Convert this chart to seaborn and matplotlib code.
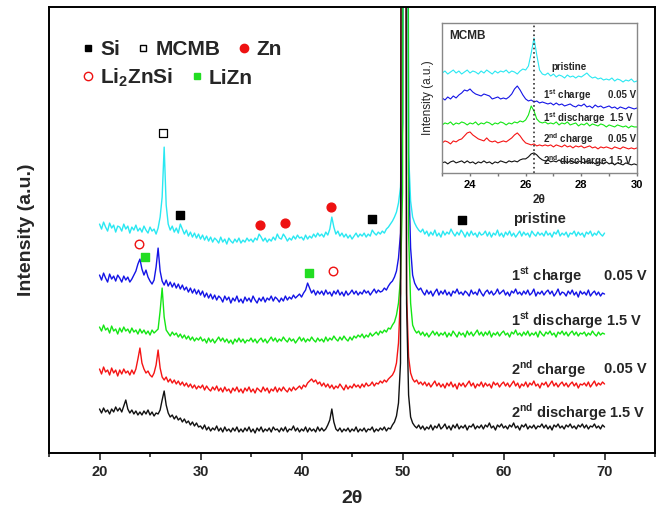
import numpy as np
import pandas as pd
import matplotlib
matplotlib.use("Agg")
import matplotlib.pyplot as plt
from matplotlib.lines import Line2D
from matplotlib.ticker import MultipleLocator, NullLocator
import seaborn as sns

# XRD patterns, main panel (2theta 20..70, step 0.2), offset intensities in a.u.
theta = np.round(np.arange(20, 70.01, 0.2), 1)

pristine = [
    229, 224, 231, 226, 222, 230, 225, 228, 221, 227,
    226, 222, 229, 224, 227, 220, 226, 223, 228, 222,
    225, 221, 227, 223, 220, 226, 222, 224, 219, 225,
    236, 256, 306, 248, 229, 223, 227, 221, 225, 220,
    229, 224, 219, 223, 217, 221, 216, 220, 215, 219,
    214, 218, 213, 217, 212, 216, 211, 215, 213, 210,
    216, 211, 214, 209, 215, 212, 210, 214, 211, 215,
    210, 213, 211, 215, 212, 214, 211, 215, 213, 219,
    216, 212, 215, 211, 214, 212, 216, 213, 219, 215,
    214, 219, 216, 212, 215, 213, 217, 214, 218, 215,
    216, 213, 218, 214, 217, 215, 219, 216, 220, 217,
    219, 216, 221, 218, 224, 236, 226, 219, 222, 217,
    220, 216, 219, 215, 218, 214, 217, 220, 216, 219,
    217, 220, 216, 219, 217, 223, 220, 218, 221, 219,
    222, 220, 224, 226, 229, 232, 236, 241, 250, 266,
    330, 1500, 1500, 300, 252, 236, 230, 226, 223, 221,
    224, 219, 222, 217, 221, 218, 223, 217, 220, 216,
    222, 218, 221, 219, 224, 220, 217, 221, 218, 223,
    220, 216, 221, 217, 222, 218, 220, 216, 221, 218,
    219, 222, 217, 221, 216, 220, 218, 223, 217, 220,
    216, 221, 218, 222, 217, 220, 216, 219, 222, 217,
    221, 218, 220, 216, 222, 219, 217, 221, 218, 220,
    217, 222, 218, 220, 216, 221, 219, 223, 217, 220,
    218, 221, 216, 220, 219, 222, 217, 221, 218, 220,
    216, 221, 219, 222, 217, 220, 218, 222, 219, 217,
    220]

charge1 = [
    178, 173, 180, 175, 171, 179, 174, 177, 172, 178,
    175, 171, 177, 173, 176, 171, 174, 178, 182, 189,
    194, 184, 178, 183, 176, 172, 169, 173, 186, 205,
    182, 172, 168, 173, 167, 171, 166, 170, 165, 169,
    164, 168, 163, 166, 161, 165, 160, 164, 159, 163,
    158, 162, 156, 160, 155, 159, 154, 158, 153, 157,
    155, 151, 157, 153, 156, 150, 155, 152, 157, 151,
    154, 150, 156, 152, 155, 151, 157, 153, 150, 155,
    152, 156, 151, 155, 153, 157, 152, 156, 154, 151,
    155, 152, 157, 153, 156, 154, 158, 155, 157, 159,
    156, 160, 163, 170, 165, 160, 163, 158, 162, 159,
    162, 158, 163, 159, 161, 157, 162, 159, 163, 158,
    161, 157, 162, 158, 160, 163, 159, 162, 158, 161,
    159, 163, 160, 162, 158, 161, 164, 160, 163, 161,
    162, 165, 163, 167, 170, 172, 176, 182, 195, 220,
    330, 1500, 1500, 280, 205, 178, 170, 166, 163, 165,
    161, 158, 163, 159, 162, 157, 161, 164, 158, 162,
    159, 163, 158, 161, 157, 162, 160, 164, 159, 161,
    158, 162, 160, 157, 163, 159, 161, 158, 164, 160,
    157, 161, 163, 159, 162, 158, 160, 164, 159, 161,
    163, 158, 161, 157, 162, 160, 164, 159, 161, 158,
    162, 159, 163, 158, 160, 164, 157, 161, 159, 162,
    158, 161, 163, 159, 162, 157, 160, 164, 158, 161,
    160, 157, 162, 159, 163, 158, 161, 156, 162, 159,
    161, 158, 163, 157, 160, 162, 158, 161, 157, 160,
    159]

discharge1 = [
    126, 122, 128, 123, 125, 120, 127, 122, 124, 119,
    125, 121, 126, 122, 124, 120, 125, 121, 123, 119,
    124, 120, 123, 119, 122, 118, 123, 120, 122, 124,
    142, 165, 136, 123, 120, 117, 121, 118, 120, 116,
    119, 115, 118, 114, 117, 113, 116, 112, 115, 113,
    116, 112, 114, 110, 115, 111, 114, 110, 113, 116,
    112, 115, 111, 114, 110, 113, 109, 114, 111, 115,
    111, 114, 110, 113, 112, 115, 111, 114, 110, 113,
    115, 111, 114, 110, 113, 116, 112, 115, 111, 114,
    112, 116, 113, 111, 115, 112, 114, 110, 113, 116,
    112, 115, 111, 114, 112, 116, 113, 111, 115, 112,
    114, 111, 116, 112, 115, 113, 117, 114, 112, 116,
    113, 117, 114, 112, 116, 113, 117, 115, 118, 116,
    119, 115, 118, 116, 120, 117, 119, 121, 118, 122,
    120, 123, 121, 125, 124, 128, 131, 138, 150, 175,
    260, 1500, 1500, 220, 150, 128, 123, 120, 122, 118,
    121, 117, 120, 116, 119, 122, 118, 121, 117, 120,
    118, 121, 116, 120, 117, 122, 119, 116, 121, 118,
    120, 116, 122, 118, 121, 117, 120, 123, 118, 121,
    117, 121, 118, 122, 116, 120, 118, 121, 117, 120,
    122, 118, 120, 116, 121, 119, 123, 118, 120, 117,
    121, 118, 122, 117, 120, 118, 121, 116, 122, 119,
    117, 121, 119, 122, 118, 120, 116, 121, 119, 122,
    118, 121, 117, 120, 122, 118, 121, 117, 120, 119,
    121, 117, 120, 118, 122, 119, 117, 121, 118, 120,
    119]

charge2 = [
    84, 79, 86, 81, 83, 78, 85, 80, 83, 77,
    83, 79, 84, 80, 82, 78, 83, 79, 84, 94,
    105, 90, 84, 80, 82, 78, 76, 80, 88, 103,
    85, 76, 73, 76, 71, 74, 70, 73, 69, 72,
    68, 71, 67, 70, 66, 69, 65, 68, 64, 67,
    65, 68, 63, 67, 64, 62, 66, 63, 67, 62,
    65, 61, 66, 62, 64, 60, 65, 62, 66, 61,
    64, 60, 65, 62, 66, 61, 64, 60, 65, 63,
    61, 66, 62, 65, 60, 64, 62, 66, 61, 65,
    62, 66, 63, 61, 65, 62, 66, 63, 65, 67,
    64, 68, 66, 70, 72, 74, 71, 73, 69, 71,
    67, 70, 66, 69, 65, 68, 64, 67, 65, 69,
    66, 63, 68, 64, 67, 65, 69, 66, 68, 65,
    69, 66, 70, 67, 68, 71, 67, 70, 69, 72,
    70, 73, 71, 74, 76, 78, 82, 90, 110, 160,
    1500, 1500, 160, 96, 80, 74, 71, 73, 69, 71,
    68, 71, 67, 70, 66, 69, 72, 67, 70, 66,
    69, 65, 70, 67, 71, 66, 69, 64, 70, 67,
    70, 66, 69, 72, 67, 70, 65, 69, 67, 71,
    66, 70, 67, 69, 65, 71, 68, 70, 66, 69,
    71, 67, 70, 66, 69, 72, 67, 70, 65, 69,
    67, 71, 66, 70, 68, 72, 67, 69, 65, 70,
    68, 71, 66, 69, 72, 67, 70, 66, 69, 71,
    67, 70, 66, 69, 71, 67, 70, 65, 69, 68,
    70, 67, 71, 66, 69, 72, 67, 70, 68, 71,
    69]

discharge2 = [
    44, 40, 45, 41, 43, 39, 44, 41, 46, 42,
    45, 41, 47, 53, 44, 40, 43, 39, 42, 38,
    41, 38, 42, 39, 43, 38, 41, 37, 40, 39,
    43, 53, 62, 48, 40, 36, 38, 34, 37, 33,
    35, 31, 34, 30, 32, 28, 31, 27, 30, 26,
    27, 24, 28, 23, 26, 22, 25, 23, 27, 22,
    25, 21, 26, 22, 24, 21, 25, 22, 26, 21,
    24, 21, 25, 22, 26, 21, 24, 20, 25, 22,
    26, 21, 24, 22, 25, 21, 26, 23, 24, 21,
    25, 22, 26, 21, 24, 23, 27, 22, 25, 21,
    24, 22, 26, 21, 25, 22, 24, 21, 26, 22,
    25, 22, 24, 28, 33, 44, 31, 24, 22, 25,
    21, 24, 22, 25, 21, 24, 22, 26, 21, 24,
    22, 25, 21, 24, 23, 26, 21, 24, 22, 25,
    23, 26, 22, 25, 24, 28, 31, 37, 50, 90,
    1500, 1500, 150, 58, 36, 30, 27, 25, 28, 24,
    27, 23, 26, 24, 28, 23, 27, 25, 29, 24,
    26, 29, 24, 27, 23, 28, 25, 29, 24, 27,
    25, 28, 23, 27, 26, 29, 24, 27, 25, 28,
    24, 28, 26, 30, 25, 27, 23, 28, 26, 29,
    25, 27, 24, 28, 26, 30, 25, 27, 23, 28,
    26, 29, 24, 27, 25, 28, 24, 27, 26, 29,
    25, 28, 24, 27, 23, 28, 26, 29, 25, 27,
    24, 28, 26, 29, 25, 27, 24, 28, 26, 29,
    25, 28, 24, 27, 26, 29, 25, 27, 24, 28,
    26]

# inset: MCMB region (2theta 23..30, step 0.1)
theta_in = np.round(np.arange(23, 30.001, 0.1), 1)

pristine_in = [
    100, 102, 99, 101, 103, 100, 102, 99, 101, 103,
    100, 102, 101, 99, 102, 100, 103, 101, 99, 102,
    100, 102, 101, 103, 100, 102, 101, 99, 102, 104,
    103, 107, 120, 135, 118, 103, 99, 98, 100, 97,
    99, 96, 98, 97, 95, 98, 96, 97, 95, 97,
    96, 98, 100, 97, 95, 96, 94, 95, 93, 94,
    93, 95, 92, 94, 93, 91, 93, 92, 94, 91,
    92]
charge1_in = [
    75, 73, 76, 74, 77, 75, 78, 80, 83, 82,
    84, 81, 79, 78, 77, 79, 78, 77, 74, 75,
    76, 74, 75, 74, 76, 79, 84, 87, 83, 78,
    74, 72, 73, 71, 72, 70, 71, 70, 69, 70,
    68, 70, 68, 69, 67, 68, 69, 67, 66, 68,
    67, 69, 66, 67, 65, 68, 66, 67, 65, 66,
    67, 65, 66, 64, 66, 65, 64, 66, 65, 64,
    65]
discharge1_in = [
    48, 50, 49, 51, 48, 50, 49, 51, 50, 48,
    50, 49, 51, 48, 50, 49, 51, 50, 48, 50,
    49, 51, 50, 48, 50, 49, 51, 50, 52, 51,
    53, 58, 67, 62, 54, 51, 50, 51, 49, 50,
    49, 51, 48, 50, 49, 51, 48, 49, 50, 47,
    49, 48, 50, 47, 49, 48, 47, 49, 48, 46,
    48, 47, 46, 48, 47, 46, 47, 45, 47, 46,
    46]
charge2_in = [
    30, 32, 31, 29, 32, 31, 33, 34, 37, 40,
    41, 38, 36, 34, 33, 32, 35, 32, 31, 32,
    30, 31, 32, 31, 33, 35, 38, 40, 37, 33,
    30, 29, 28, 29, 27, 28, 27, 28, 27, 28,
    26, 28, 27, 26, 28, 26, 27, 25, 27, 26,
    27, 25, 26, 27, 25, 26, 24, 26, 25, 26,
    25, 24, 26, 25, 24, 26, 25, 24, 25, 24,
    25]
discharge2_in = [
    10, 11, 9, 11, 12, 10, 11, 12, 10, 12,
    10, 11, 9, 11, 10, 12, 10, 11, 9, 11,
    10, 12, 11, 10, 12, 11, 12, 11, 13, 14,
    14, 16, 19, 20, 18, 15, 13, 12, 13, 11,
    12, 11, 13, 11, 12, 10, 12, 11, 10, 12,
    11, 10, 12, 10, 11, 9, 11, 10, 9, 11,
    9, 10, 8, 10, 9, 8, 10, 9, 8, 9,
    8]

states = ["pristine", "1st charge", "1st discharge", "2nd charge", "2nd discharge"]
colors = ["#2ae8f2", "#1414e6", "#14e614", "#f51414", "#111111"]

# phase markers (2theta, offset intensity)
si_x, si_y = [28.0, 47.0, 55.9], [238, 234, 233]
mcmb_x, mcmb_y = [26.3], [320]
zn_x, zn_y = [35.9, 38.35, 42.9], [228, 230, 246]
li2znsi_x, li2znsi_y = [23.9, 43.1], [209, 182]
lizn_x, lizn_y = [24.5, 40.7], [196, 180]

sns.set_style("ticks")
plt.rcParams["font.family"] = ["Liberation Sans", "DejaVu Sans"]
plt.rcParams["mathtext.fontset"] = "custom"
plt.rcParams["mathtext.rm"] = "Liberation Sans"
plt.rcParams["mathtext.bf"] = "Liberation Sans:bold"

main = pd.concat([pd.DataFrame({"theta": theta, "intensity": y, "state": s})
                  for s, y in zip(states, [pristine, charge1, discharge1, charge2, discharge2])])
inset = pd.concat([pd.DataFrame({"theta": theta_in, "intensity": y, "state": s})
                   for s, y in zip(states, [pristine_in, charge1_in, discharge1_in, charge2_in, discharge2_in])])

fig = plt.figure(figsize=(6.58, 5.13), dpi=100)
ax = fig.add_axes([0.0745, 0.117, 0.921, 0.869])

sns.lineplot(data=main, x="theta", y="intensity", hue="state", palette=colors,
             estimator=None, sort=False, lw=1.0, legend=False, ax=ax)

ax.scatter(si_x, si_y, marker="s", s=40, color="black", zorder=5)
ax.scatter(mcmb_x, mcmb_y, marker="s", s=34, facecolor="white", edgecolor="black", lw=0.9, zorder=5)
ax.scatter(zn_x, zn_y, marker="o", s=40, color="#ee1111", zorder=5)
ax.scatter(li2znsi_x, li2znsi_y, marker="o", s=38, facecolor="white", edgecolor="#ee1111", lw=1, zorder=5)
ax.scatter(lizn_x, lizn_y, marker="s", s=40, color="#22dd22", zorder=5)

ax.set_xlim(15, 75)
ax.set_ylim(0, 446)
ax.xaxis.set_major_locator(MultipleLocator(10))
ax.xaxis.set_minor_locator(MultipleLocator(5))
ax.yaxis.set_major_locator(NullLocator())
ax.tick_params(axis="x", which="major", direction="out", length=5, width=1.2, labelsize=10.5)
ax.tick_params(axis="x", which="minor", direction="out", length=3, width=1.2)
for lab in ax.get_xticklabels():
    lab.set_fontweight("bold")
for sp in ax.spines.values():
    sp.set_linewidth(1.4)
    sp.set_color("black")
ax.set_xlabel("2θ", fontsize=14, fontweight="bold", labelpad=8)
ax.set_ylabel("Intensity (a.u.)", fontsize=14, fontweight="bold", labelpad=10)

# state labels
lab_kw = dict(fontsize=10.5, fontweight="bold", va="center", ha="left")
ax.text(60.9, 234, "pristine", **lab_kw)
ax.text(60.7, 177, r"1$^{\mathbf{st}}$ charge", **lab_kw)
ax.text(69.9, 177, "0.05 V", **lab_kw)
ax.text(60.7, 132, r"1$^{\mathbf{st}}$ discharge 1.5 V", **lab_kw)
ax.text(60.7, 84, r"2$^{\mathbf{nd}}$ charge", **lab_kw)
ax.text(69.9, 84, "0.05 V", **lab_kw)
ax.text(60.7, 41, r"2$^{\mathbf{nd}}$ discharge 1.5 V", **lab_kw)

# legends (two rows)
row1 = [Line2D([], [], ls="none", marker="s", ms=5, color="black"),
        Line2D([], [], ls="none", marker="s", ms=5, mfc="white", mec="black"),
        Line2D([], [], ls="none", marker="o", ms=6, color="#ee1111")]
row2 = [Line2D([], [], ls="none", marker="o", ms=6, mfc="white", mec="#ee1111"),
        Line2D([], [], ls="none", marker="s", ms=5, color="#22dd22")]
leg_kw = dict(frameon=False, handlelength=0.6, handletextpad=0.3, columnspacing=0.8,
              prop={"weight": "bold", "size": 15}, borderaxespad=0)
leg1 = ax.legend(row1, ["Si", "MCMB", "Zn"], ncol=3, loc="upper left",
                 bbox_to_anchor=(0.04, 0.945), **leg_kw)
ax.add_artist(leg1)
ax.legend(row2, [r"Li$_{\mathbf{2}}$ZnSi", "LiZn"], ncol=2, loc="upper left",
          bbox_to_anchor=(0.04, 0.885), **leg_kw)

# inset
axi = fig.add_axes([0.672, 0.663, 0.296, 0.292])
sns.lineplot(data=inset, x="theta", y="intensity", hue="state", palette=colors,
             estimator=None, sort=False, lw=0.8, legend=False, ax=axi)
axi.axvline(26.3, color="#333333", ls=":", lw=1.2)
axi.set_xlim(23, 30)
axi.set_ylim(0, 150)
axi.xaxis.set_major_locator(MultipleLocator(2))
axi.xaxis.set_minor_locator(MultipleLocator(1))
axi.yaxis.set_major_locator(NullLocator())
axi.tick_params(axis="x", which="both", direction="out", length=2.5, width=1,
                labelsize=8, colors="#777777", labelcolor="black", pad=2.5)
for lab in axi.get_xticklabels():
    lab.set_fontweight("bold")
for sp in axi.spines.values():
    sp.set_color("#888888")
    sp.set_linewidth(1)
axi.set_xlabel("2θ", fontsize=8.5, fontweight="bold", labelpad=3)
axi.set_ylabel("Intensity (a.u.)", fontsize=8.5, labelpad=6)

in_kw = dict(fontsize=7, fontweight="bold", va="center")
axi.text(23.25, 137, "MCMB", fontsize=8.5, fontweight="bold", va="center")
axi.text(26.93, 106, "pristine", **in_kw)
axi.text(26.62, 78, r"1$^{\mathbf{st}}$ charge", **in_kw)
axi.text(29.98, 78, "0.05 V", ha="right", **in_kw)
axi.text(26.62, 55, r"1$^{\mathbf{st}}$ discharge  1.5 V", **in_kw)
axi.text(26.62, 34, r"2$^{\mathbf{nd}}$ charge", **in_kw)
axi.text(29.98, 34, "0.05 V", ha="right", **in_kw)
axi.text(26.62, 12, r"2$^{\mathbf{nd}}$ discharge 1.5 V", **in_kw)

fig.savefig("out.png", dpi=100)
